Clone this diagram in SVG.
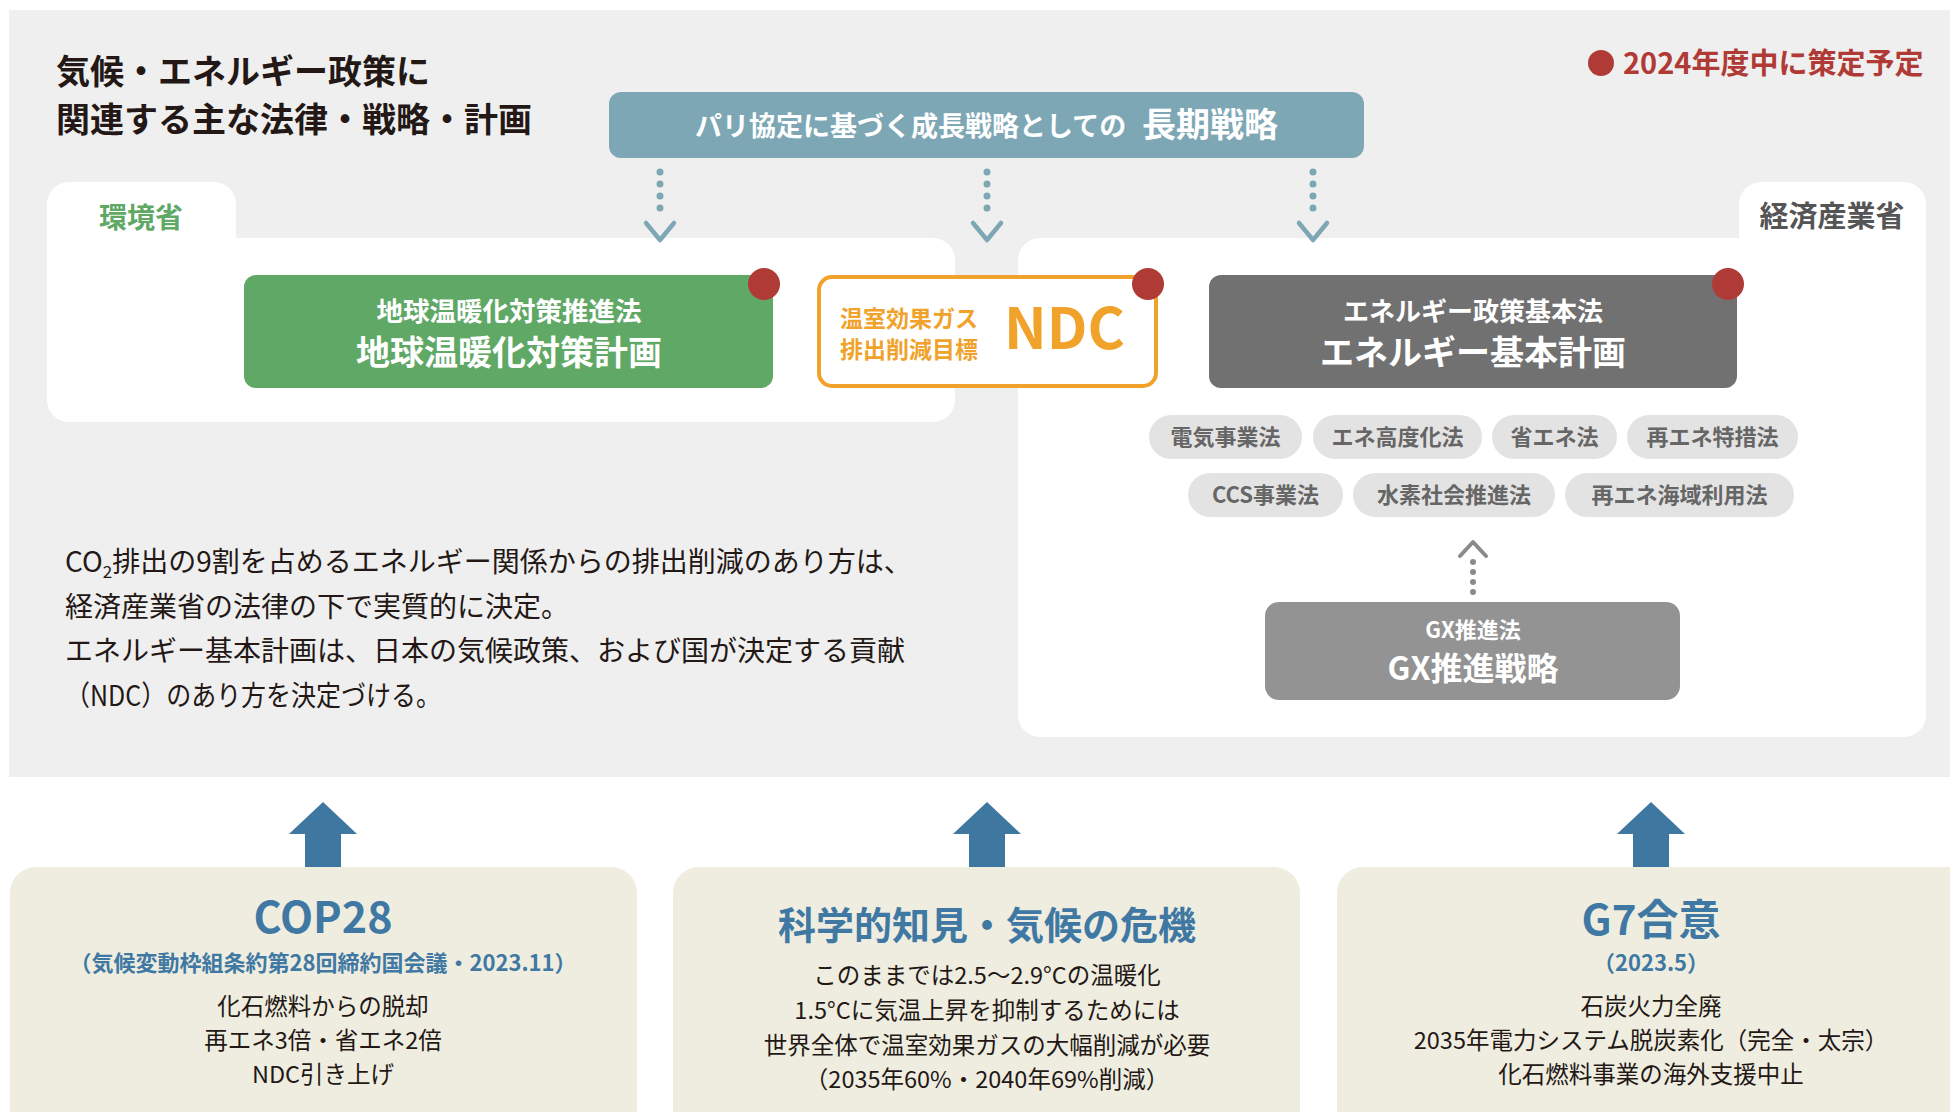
<svg xmlns="http://www.w3.org/2000/svg" width="1950" height="1112" viewBox="0 0 1950 1112">
<style>
text{font-family:"Noto Sans CJK JP","Noto Sans",sans-serif;}
.b{font-weight:700;}
.r{font-weight:400;}
.w{fill:#ffffff;}
.dk{fill:#231815;}
.bl{fill:#3f79a3;}
.pill rect{fill:#e3e3e3;}
.pill text{fill:#666666;font-weight:700;font-size:22px;text-anchor:middle;}
.mid{text-anchor:middle;}
.dotb{stroke:#7ea7b5;stroke-width:7;stroke-linecap:round;stroke-dasharray:0 12;fill:none;}
.chevb{stroke:#7ea7b5;stroke-width:4.5;fill:none;stroke-linecap:round;stroke-linejoin:round;}
.dotg{stroke:#8a8a8a;stroke-width:6;stroke-linecap:round;stroke-dasharray:0 10;fill:none;}
.chevg{stroke:#8a8a8a;stroke-width:4;fill:none;stroke-linecap:round;stroke-linejoin:round;}
.barrow{fill:#3e77a0;}
.red{fill:#b03a35;}
.cream{fill:#efede0;}
</style>

<rect x="9" y="10" width="1941" height="767" fill="#efefef"/>

<g id="title">
<text class="b dk" x="56" y="84" font-size="34">気候・エネルギー政策に</text>
<text class="b dk" x="56" y="132" font-size="34">関連する主な法律・戦略・計画</text>
</g>

<g id="legend">
<circle class="red" cx="1601" cy="63" r="13"/>
<text class="b red" x="1623" y="74" font-size="29">2024年度中に策定予定</text>
</g>

<g id="panel-moe">
<path d="M47,204 A22,22 0 0 1 69,182 H214 A22,22 0 0 1 236,204 V238 H933 A22,22 0 0 1 955,260 V400 A22,22 0 0 1 933,422 H69 A22,22 0 0 1 47,400 Z" fill="#ffffff"/>
<text class="b mid" x="141" y="228" font-size="28" fill="#5fa866">環境省</text>
</g>

<g id="panel-meti">
<path d="M1040,238 H1739 V204 A22,22 0 0 1 1761,182 H1904 A22,22 0 0 1 1926,204 V715 A22,22 0 0 1 1904,737 H1040 A22,22 0 0 1 1018,715 V260 A22,22 0 0 1 1040,238 Z" fill="#ffffff"/>
<text class="b mid" x="1832" y="227" font-size="29" fill="#555555">経済産業省</text>
</g>

<g id="long-term-strategy">
<rect x="609" y="92" width="755" height="66" rx="12" fill="#7ea7b5"/>
<text class="b w" x="695" y="136" font-size="27">パリ協定に基づく成長戦略としての</text>
<text class="b w" x="1142" y="137" font-size="34">長期戦略</text>
</g>

<g id="global-warming-plan">
<rect x="244" y="275" width="529" height="113" rx="12" fill="#60a866"/>
<text class="b w mid" x="509" y="321" font-size="26.5">地球温暖化対策推進法</text>
<text class="b w mid" x="509" y="365" font-size="34">地球温暖化対策計画</text>
<circle class="red" cx="764" cy="284" r="16"/>
</g>

<g id="ndc">
<rect x="819" y="277" width="337" height="109" rx="13" fill="#ffffff" stroke="#f0a22a" stroke-width="4"/>
<text class="b" x="840" y="327" font-size="23" fill="#f0a22a">温室効果ガス</text>
<text class="b" x="840" y="358" font-size="23" fill="#f0a22a">排出削減目標</text>
<text class="b" x="1004" y="349" font-size="57" fill="#f0a22a">NDC</text>
<circle class="red" cx="1148" cy="284" r="16"/>
</g>

<g id="energy-plan">
<rect x="1209" y="275" width="528" height="113" rx="12" fill="#717171"/>
<text class="b w mid" x="1473" y="321" font-size="26">エネルギー政策基本法</text>
<text class="b w mid" x="1473" y="365" font-size="34">エネルギー基本計画</text>
<circle class="red" cx="1728" cy="284" r="16"/>
</g>

<g id="laws">
<g class="pill" id="law-denki"><rect x="1149" y="415" width="153" height="44" rx="22"/><text x="1225.5" y="445">電気事業法</text></g>
<g class="pill" id="law-enekodoka"><rect x="1313" y="415" width="169" height="44" rx="22"/><text x="1397.5" y="445">エネ高度化法</text></g>
<g class="pill" id="law-shoene"><rect x="1492" y="415" width="125" height="44" rx="22"/><text x="1554.5" y="445">省エネ法</text></g>
<g class="pill" id="law-saiene"><rect x="1627" y="415" width="171" height="44" rx="22"/><text x="1712.5" y="445">再エネ特措法</text></g>
<g class="pill" id="law-ccs"><rect x="1188" y="473" width="155" height="44" rx="22"/><text x="1265.5" y="503">CCS事業法</text></g>
<g class="pill" id="law-suiso"><rect x="1353" y="473" width="202" height="44" rx="22"/><text x="1454" y="503">水素社会推進法</text></g>
<g class="pill" id="law-kaiiki"><rect x="1565" y="473" width="229" height="44" rx="22"/><text x="1679.5" y="503">再エネ海域利用法</text></g>
</g>

<g id="gx">
<rect x="1265" y="602" width="415" height="98" rx="14" fill="#939393"/>
<text class="b w mid" x="1473" y="638" font-size="22">GX推進法</text>
<text class="b w mid" x="1473" y="680" font-size="32">GX推進戦略</text>
</g>

<g id="note">
<text class="r dk" x="65" y="572" font-size="28">CO<tspan font-size="17" dy="6">2</tspan><tspan dy="-6">排出の9割を占めるエネルギー関係からの排出削減のあり方は、</tspan></text>
<text class="r dk" x="65" y="617" font-size="28">経済産業省の法律の下で実質的に決定。</text>
<text class="r dk" x="65" y="661" font-size="28">エネルギー基本計画は、日本の気候政策、および国が決定する貢献</text>
<text class="r dk" x="65" y="706" font-size="28" textLength="376" lengthAdjust="spacingAndGlyphs">（NDC）のあり方を決定づける。</text>
</g>

<g id="cop28">
<rect class="cream" x="10" y="867" width="627" height="280" rx="26"/>
<text class="b bl mid" x="323" y="933" font-size="43">COP28</text>
<text class="b bl mid" x="323" y="971" font-size="22">（気候変動枠組条約第28回締約国会議・2023.11）</text>
<text class="r dk mid" x="323" y="1015" font-size="23.5">化石燃料からの脱却</text>
<text class="r dk mid" x="323" y="1049" font-size="23.5">再エネ3倍・省エネ2倍</text>
<text class="r dk mid" x="323" y="1083" font-size="23.5">NDC引き上げ</text>
</g>

<g id="science">
<rect class="cream" x="673" y="867" width="627" height="280" rx="26"/>
<text class="b bl mid" x="987" y="939" font-size="38">科学的知見・気候の危機</text>
<text class="r dk mid" x="987" y="984" font-size="23.5">このままでは2.5〜2.9°Cの温暖化</text>
<text class="r dk mid" x="987" y="1019" font-size="23.5">1.5°Cに気温上昇を抑制するためには</text>
<text class="r dk mid" x="987" y="1054" font-size="23.5">世界全体で温室効果ガスの大幅削減が必要</text>
<text class="r dk mid" x="987" y="1088" font-size="23.5">（2035年60%・2040年69%削減）</text>
</g>

<g id="g7">
<rect class="cream" x="1337" y="867" width="650" height="280" rx="26"/>
<text class="b bl mid" x="1651" y="935" font-size="42">G7合意</text>
<text class="b bl mid" x="1651" y="971" font-size="22">（2023.5）</text>
<text class="r dk mid" x="1651" y="1015" font-size="23.5">石炭火力全廃</text>
<text class="r dk mid" x="1651" y="1049" font-size="23.5">2035年電力システム脱炭素化（完全・太宗）</text>
<text class="r dk mid" x="1651" y="1083" font-size="23.5">化石燃料事業の海外支援中止</text>
</g>

<g id="connectors">
<line class="dotb" x1="660" y1="172" x2="660" y2="220"/>
<polyline class="chevb" points="646,223 660,240 674,223"/>
<line class="dotb" x1="987" y1="172" x2="987" y2="220"/>
<polyline class="chevb" points="973,223 987,240 1001,223"/>
<line class="dotb" x1="1313" y1="172" x2="1313" y2="220"/>
<polyline class="chevb" points="1299,223 1313,240 1327,223"/>
<line class="dotg" x1="1473" y1="562" x2="1473" y2="602"/>
<polyline class="chevg" points="1460,556 1473,542 1486,556"/>
<polygon class="barrow" points="289,834 323,802 357,834 341,834 341,867 305,867 305,834"/>
<polygon class="barrow" points="953,834 987,802 1021,834 1005,834 1005,867 969,867 969,834"/>
<polygon class="barrow" points="1617,834 1651,802 1685,834 1669,834 1669,867 1633,867 1633,834"/>
</g>
</svg>
